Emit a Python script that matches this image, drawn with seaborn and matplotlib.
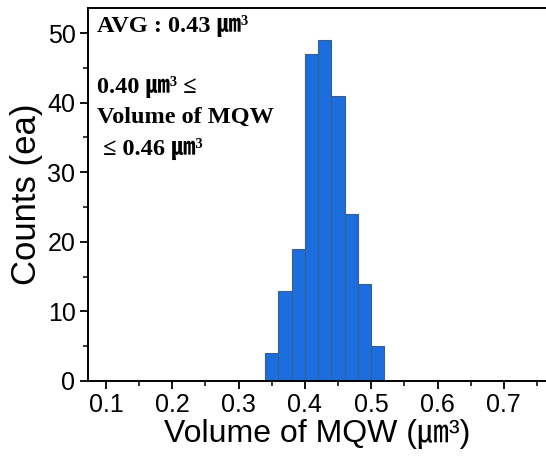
import numpy as np
import pandas as pd
import seaborn as sns
import matplotlib
matplotlib.use("Agg")
from matplotlib import pyplot as plt
from matplotlib.ticker import MultipleLocator

# histogram (bin width 0.02 um^3)
bin_edges = [0.34, 0.36, 0.38, 0.40, 0.42, 0.44, 0.46, 0.48, 0.50, 0.52]
counts = [4, 13, 19, 47, 49, 41, 24, 14, 5]
x_ticks = [0.1, 0.2, 0.3, 0.4, 0.5, 0.6, 0.7]
y_ticks = [0, 10, 20, 30, 40, 50]

centers = [(a + b) / 2 for a, b in zip(bin_edges[:-1], bin_edges[1:])]
df = pd.DataFrame({"volume": centers, "count": counts})

sns.set_style("ticks", {"axes.edgecolor": "black", "xtick.color": "black",
                        "ytick.color": "black", "text.color": "black",
                        "axes.labelcolor": "black"})
sans = ["Liberation Sans", "Noto Sans CJK KR", "DejaVu Sans"]
serif = ["Liberation Serif", "Noto Sans CJK KR", "DejaVu Sans"]
plt.rcParams["font.family"] = sans

fig = plt.figure(figsize=(5.46, 4.58), dpi=100)
ax = fig.add_axes([88 / 546, 77 / 458, 458 / 546, 373 / 458])

sns.histplot(data=df, x="volume", weights="count", bins=bin_edges,
             color="#1c6ede", edgecolor="#3b5d8c", linewidth=0.8,
             alpha=1.0, ax=ax)

ax.set_xlim(0.0728, 0.7636)
ax.set_ylim(0, 53.6)
ax.set_xticks(x_ticks)
ax.set_yticks(y_ticks)
ax.set_xticklabels([f"{v:.1f}" for v in x_ticks])
ax.xaxis.set_minor_locator(MultipleLocator(0.05))
ax.yaxis.set_minor_locator(MultipleLocator(5))
ax.tick_params(which="major", direction="out", length=6, width=1.3,
               labelsize=18, pad=3)
ax.tick_params(which="minor", direction="out", length=3.5, width=1.1)
ax.tick_params(top=False, right=False, which="both")
for s in ["left", "bottom", "top"]:
    ax.spines[s].set_linewidth(1.4)
ax.spines["right"].set_visible(False)

ax.set_xlabel("Volume of MQW (㎛³)", fontsize=23, labelpad=1)
ax.set_ylabel("Counts (ea)", fontsize=25, labelpad=3)

kw = dict(transform=ax.transAxes, family=serif, fontweight="bold",
          fontsize=17.5, va="baseline", ha="left", color="black")
ax.text(0.02, 0.936, "AVG : 0.43 ㎛³", **kw)
ax.text(0.02, 0.772, "0.40 ㎛³ ≤", **kw)
ax.text(0.02, 0.692, "Volume of MQW", **kw)
ax.text(0.02, 0.606, " ≤ 0.46 ㎛³", **kw)

fig.savefig("out.png", dpi=100)
